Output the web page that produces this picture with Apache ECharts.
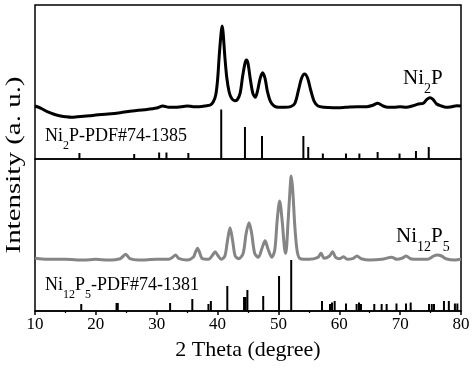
<!DOCTYPE html>
<html>
<head>
<meta charset="utf-8">
<script src="https://cdn.jsdelivr.net/npm/echarts@6/dist/echarts.min.js"></script>
<style>html,body{margin:0;padding:0;background:#fff}#c{width:474px;height:369px}</style>
</head>
<body>
<div id="c"></div>
<script>
// ---- Data (2θ in degrees, intensity in arbitrary units) ----
const ni2pTheta = [10,11,12,13,14,15,16,17,18,19,20,22,24,26,28,30,31,32,33,34,35,36,37,38,38.8,39.3,39.7,40.0,40.3,40.6,40.75,40.9,41.2,41.5,41.9,42.3,42.8,43.2,43.7,44.1,44.5,44.75,45.0,45.4,45.8,46.2,46.6,47.0,47.4,47.8,48.2,48.7,49.3,50,51,52,52.7,53.3,53.8,54.3,54.8,55.3,55.9,56.5,57.5,59,61,63,64.5,65.5,66.3,67.2,68,69,70,71,72,73,73.8,74.4,74.9,75.4,76,76.8,77.5,78.5,79.3,80];
const ni2pInt   = [53,50.7,47.3,45,43.3,42.3,41.7,42.3,42.7,43.3,44,45,46.3,48,49.3,51,53,51.7,51.7,52.3,53,52.3,52.3,53,54,57.3,64,79,105.7,127,133,127,102,82,67,60.7,58.3,59,65.7,82,95.7,99,95.7,79,65.7,61.7,69,80.7,86.3,80.7,67.3,57.3,53,51.7,51.7,52.3,55.7,69,80.7,85,80.7,69,57.3,53,51.7,51.3,51.7,52.3,52.3,53.7,55.7,53,51.7,51.7,52.3,51.7,53,55,55.7,59.7,61.3,59.7,55,53,51.7,52.3,53.3,53];

const ni2pRefTheta = [17.3,26.3,30.4,31.6,35.2,40.6,44.5,47.3,54.1,54.9,57.3,61.1,63.3,66.3,69.9,72.6,74.7];
const ni2pRefInt   = [6,5,6.5,6.5,6,49.5,32,23,23,12,5.5,5.5,5.5,7,5.5,8,12];

const ni12p5Theta = [10,12,15,18,20,22,24,24.9,25.6,27,30,32,32.6,33.1,33.6,35,36.0,36.4,36.7,37.0,37.5,38.5,39.2,39.6,40.0,40.6,41.2,41.6,42.05,42.5,42.9,43.5,44.2,44.7,45.17,45.6,46.1,46.7,47.3,47.8,48.3,48.9,49.4,49.8,50.2,50.6,51.0,51.2,51.6,51.9,52.1,52.35,52.7,53.1,53.6,55,56.5,57.0,57.5,58.4,58.9,59.4,60.1,60.7,61.3,62.3,62.9,63.6,65,67,68.6,69.5,70.4,71.0,71.7,73,74.5,75.5,76.1,76.8,77.5,79,80];
const ni12p5Int   = [52.7,51.7,51.7,51,51.7,51,52.3,56.7,52.3,51,51.7,51.7,53.7,56,52.7,51,53.7,59.3,62.7,59.3,52.3,51.7,56,59.3,56,51.7,55,69.3,83.3,69.3,55,52.3,57.7,77.7,88.3,77.7,57.7,53.7,62.7,70.3,61.7,53.7,61,91,110,91,62.7,57.7,91,121,135,121,84.3,59.3,52.3,51.7,53.7,57.7,52.7,55,59.3,53.7,52.3,54.3,51.7,52.7,55,52.3,51,51.7,53.7,51.7,53,55,52.3,51.7,51.7,55,56,55,52.3,51,51.7];

const ni12p5RefTheta = [17.6,23.4,23.6,32.2,35.85,38.5,38.9,41.6,44.35,44.6,44.9,47.5,50.1,52.1,57.16,58.47,58.8,59.24,61.1,62.85,63.24,63.57,65.75,66.96,67.78,69.4,70.96,71.73,74.74,75.2,75.56,77.2,78.0,79.0,79.4];
const ni12p5RefInt   = [7,8,8,8,12,7,10,25,14,14,21,15,35,51,10,7,8.5,10,7.5,7,8.5,7,7,7,7,7.5,7.5,8.5,7,7,7,10,10,7.5,7.5];

const xTicks = [10,20,30,40,50,60,70,80];

// ---- Chart ----
const FONT = 'Liberation Serif';
const chart = echarts.init(document.getElementById('c'), null, {renderer: 'canvas'});

function zip(a, b) { return a.map((v, i) => [v, b[i]]); }

function stickRender(color, width) {
  return function (params, api) {
    const p0 = api.coord([api.value(0), 0]);
    const p1 = api.coord([api.value(0), api.value(1)]);
    return {type: 'line', shape: {x1: p0[0], y1: p0[1], x2: p1[0], y2: p1[1]},
            style: {stroke: color, lineWidth: width}};
  };
}

function richLabel(parts, big) {
  const n = big ? {fontSize: 21, lineHeight: 24, verticalAlign: 'top', fontFamily: FONT, fill: '#000'}
                : {fontSize: 18, lineHeight: 22, verticalAlign: 'top', fontFamily: FONT, fill: '#000'};
  const s = big ? {fontSize: 14, lineHeight: 14, padding: [14, 0, 0, 0], verticalAlign: 'top', fontFamily: FONT, fill: '#000'}
                : {fontSize: 12, lineHeight: 12, padding: [13, 0, 0, 0], verticalAlign: 'top', fontFamily: FONT, fill: '#000'};
  return {text: parts, rich: {n: n, s: s}, verticalAlign: 'top', align: 'left'};
}

const option = {
  animation: false,
  backgroundColor: '#fff',
  grid: [
    {left: 35, right: 13, top: 5, height: 154, show: true, borderColor: '#000', borderWidth: 1.5},
    {left: 35, right: 13, top: 159, height: 152, show: true, borderColor: '#000', borderWidth: 1.5}
  ],
  xAxis: [
    {gridIndex: 0, type: 'value', min: 10, max: 80, interval: 10,
     axisLine: {show: false}, axisTick: {show: false}, axisLabel: {show: false}, splitLine: {show: false}},
    {gridIndex: 1, type: 'value', min: 10, max: 80, interval: 10,
     axisLine: {show: true, lineStyle: {color: '#000', width: 1.5}},
     axisTick: {show: true, inside: false, length: 4, lineStyle: {color: '#000', width: 1.5}},
     minorTick: {show: true, splitNumber: 2, length: 2, lineStyle: {color: '#000', width: 1.2}},
     axisLabel: {show: true, fontFamily: FONT, fontSize: 17, color: '#000', margin: 5,
                 customValues: xTicks, formatter: v => String(v)},
     splitLine: {show: false},
     name: '2 Theta (degree)', nameLocation: 'middle', nameGap: 28,
     nameTextStyle: {fontFamily: FONT, fontSize: 22, color: '#000'}}
  ],
  yAxis: [
    {gridIndex: 0, type: 'value', min: 0, max: 154, show: false},
    {gridIndex: 1, type: 'value', min: 0, max: 152, show: false}
  ],
  series: [
    {type: 'line', xAxisIndex: 0, yAxisIndex: 0, data: zip(ni2pTheta, ni2pInt),
     showSymbol: false, smooth: 0.3, lineStyle: {color: '#000', width: 3}},
    {type: 'custom', xAxisIndex: 0, yAxisIndex: 0, data: zip(ni2pRefTheta, ni2pRefInt),
     renderItem: stickRender('#000', 2), encode: {x: 0, y: 1}},
    {type: 'line', xAxisIndex: 1, yAxisIndex: 1, data: zip(ni12p5Theta, ni12p5Int),
     showSymbol: false, smooth: 0.3, lineStyle: {color: '#858585', width: 3}},
    {type: 'custom', xAxisIndex: 1, yAxisIndex: 1, data: zip(ni12p5RefTheta, ni12p5RefInt),
     renderItem: stickRender('#000', 2), encode: {x: 0, y: 1}}
  ],
  graphic: [
    {type: 'text', left: 403, top: 68, style: richLabel('{n|Ni}{s|2}{n|P}', true)},
    {type: 'text', left: 45, top: 127, style: richLabel('{n|Ni}{s|2}{n|P-PDF#74-1385}', false)},
    {type: 'text', left: 396, top: 226, style: richLabel('{n|Ni}{s|12}{n|P}{s|5}', true)},
    {type: 'text', left: 45, top: 276, style: richLabel('{n|Ni}{s|12}{n|P}{s|5}{n|-PDF#74-1381}', false)},
    {type: 'text', x: 14, y: 165, rotation: Math.PI / 2, scaleX: 1.38,
     style: {text: 'Intensity (a. u.)', fontFamily: FONT, fontSize: 21, fill: '#000',
             align: 'center', verticalAlign: 'middle'}}
  ]
};
chart.setOption(option);
</script>
</body>
</html>
